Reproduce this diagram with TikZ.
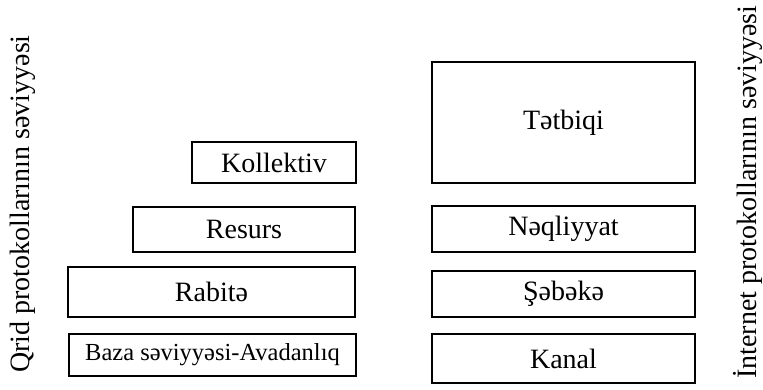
\documentclass[tikz,border=0pt]{standalone}
\usepackage{fontspec}
\setmainfont{Liberation Serif}
\begin{document}
\begin{tikzpicture}[x=1pt,y=-1pt,
  box/.style={draw=black, line width=1.6pt, inner sep=0pt, font=\fontsize{28}{32}\selectfont},
  side/.style={rotate=90, anchor=base, inner sep=0pt, font=\fontsize{28}{32}\selectfont}]
\useasboundingbox (0,0) rectangle (763,389);
% left stack
\node[box, minimum width=164pt, minimum height=41pt] (kol) at (274,162.5) {Kollektiv};
\node[box, minimum width=222pt, minimum height=45pt] (res) at (244,229.5) {Resurs};
\node[box, minimum width=287pt, minimum height=50pt] (rab) at (211.5,292) {Rabitə};
\node[box, minimum width=287pt, minimum height=42pt, font=\fontsize{24.5}{28}\selectfont] (baz) at (212.5,355) {Baza səviyyəsi-Avadanlıq};
% right stack
\node[box, minimum width=263pt, minimum height=121pt] (tet) at (563.5,122.5) {Tətbiqi};
\node[box, minimum width=263pt, minimum height=46pt] (neq) at (563.5,229) {Nəqliyyat};
\node[box, minimum width=263pt, minimum height=46pt] (seb) at (563.5,294) {Şəbəkə};
\node[box, minimum width=263pt, minimum height=49pt] (kan) at (563.5,358.5) {Kanal};
% side labels
\node[side] (lq) at (29,204) {Qrid protokollarının səviyyəsi};
\node[side] (li) at (756.5,192) {İnternet protokollarının səviyyəsi};
\end{tikzpicture}
\end{document}
